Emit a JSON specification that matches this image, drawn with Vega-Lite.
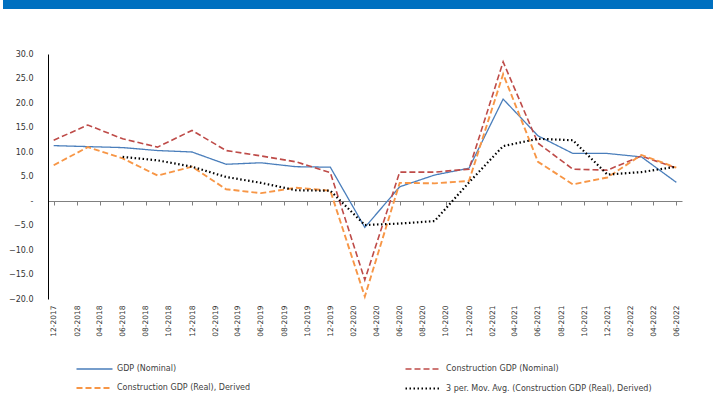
{
  "$schema": "https://vega.github.io/schema/vega-lite/v6.json",
  "width": 634,
  "height": 245,
  "autosize": {"type": "none"},
  "padding": {"left": 48, "top": 54, "right": 31, "bottom": 106},
  "background": "white",
  "config": {
    "view": {"stroke": null},
    "font": "DejaVu Sans",
    "axis": {"labelColor": "#333333", "grid": false, "title": null},
    "legend": {"gradientHorizontalMaxLength": 900}
  },
  "data": {
    "values": [
      {"date": "2017/12/01", "series": "GDP (Nominal)", "value": 11.3},
      {"date": "2018/03/01", "series": "GDP (Nominal)", "value": 11.1},
      {"date": "2018/06/01", "series": "GDP (Nominal)", "value": 10.9},
      {"date": "2018/09/01", "series": "GDP (Nominal)", "value": 10.3},
      {"date": "2018/12/01", "series": "GDP (Nominal)", "value": 10.0},
      {"date": "2019/03/01", "series": "GDP (Nominal)", "value": 7.5},
      {"date": "2019/06/01", "series": "GDP (Nominal)", "value": 7.8},
      {"date": "2019/09/01", "series": "GDP (Nominal)", "value": 7.0},
      {"date": "2019/12/01", "series": "GDP (Nominal)", "value": 6.9},
      {"date": "2020/03/01", "series": "GDP (Nominal)", "value": -5.4},
      {"date": "2020/06/01", "series": "GDP (Nominal)", "value": 2.9},
      {"date": "2020/09/01", "series": "GDP (Nominal)", "value": 5.3},
      {"date": "2020/12/01", "series": "GDP (Nominal)", "value": 6.7},
      {"date": "2021/03/01", "series": "GDP (Nominal)", "value": 20.8},
      {"date": "2021/06/01", "series": "GDP (Nominal)", "value": 13.3},
      {"date": "2021/09/01", "series": "GDP (Nominal)", "value": 9.7},
      {"date": "2021/12/01", "series": "GDP (Nominal)", "value": 9.7},
      {"date": "2022/03/01", "series": "GDP (Nominal)", "value": 9.0},
      {"date": "2022/06/01", "series": "GDP (Nominal)", "value": 3.8},
      {"date": "2017/12/01", "series": "Construction GDP (Nominal)", "value": 12.4},
      {"date": "2018/03/01", "series": "Construction GDP (Nominal)", "value": 15.5},
      {"date": "2018/06/01", "series": "Construction GDP (Nominal)", "value": 12.7},
      {"date": "2018/09/01", "series": "Construction GDP (Nominal)", "value": 11.0},
      {"date": "2018/12/01", "series": "Construction GDP (Nominal)", "value": 14.4},
      {"date": "2019/03/01", "series": "Construction GDP (Nominal)", "value": 10.3},
      {"date": "2019/06/01", "series": "Construction GDP (Nominal)", "value": 9.2},
      {"date": "2019/09/01", "series": "Construction GDP (Nominal)", "value": 8.0},
      {"date": "2019/12/01", "series": "Construction GDP (Nominal)", "value": 5.8},
      {"date": "2020/03/01", "series": "Construction GDP (Nominal)", "value": -16.1},
      {"date": "2020/06/01", "series": "Construction GDP (Nominal)", "value": 5.9},
      {"date": "2020/09/01", "series": "Construction GDP (Nominal)", "value": 5.9},
      {"date": "2020/12/01", "series": "Construction GDP (Nominal)", "value": 6.5},
      {"date": "2021/03/01", "series": "Construction GDP (Nominal)", "value": 28.4},
      {"date": "2021/06/01", "series": "Construction GDP (Nominal)", "value": 11.8},
      {"date": "2021/09/01", "series": "Construction GDP (Nominal)", "value": 6.5},
      {"date": "2021/12/01", "series": "Construction GDP (Nominal)", "value": 6.3},
      {"date": "2022/03/01", "series": "Construction GDP (Nominal)", "value": 9.2},
      {"date": "2022/06/01", "series": "Construction GDP (Nominal)", "value": 6.7},
      {"date": "2017/12/01", "series": "Construction GDP (Real), Derived", "value": 7.3},
      {"date": "2018/03/01", "series": "Construction GDP (Real), Derived", "value": 11.0},
      {"date": "2018/06/01", "series": "Construction GDP (Real), Derived", "value": 8.7},
      {"date": "2018/09/01", "series": "Construction GDP (Real), Derived", "value": 5.2},
      {"date": "2018/12/01", "series": "Construction GDP (Real), Derived", "value": 7.0},
      {"date": "2019/03/01", "series": "Construction GDP (Real), Derived", "value": 2.4},
      {"date": "2019/06/01", "series": "Construction GDP (Real), Derived", "value": 1.6},
      {"date": "2019/09/01", "series": "Construction GDP (Real), Derived", "value": 2.7},
      {"date": "2019/12/01", "series": "Construction GDP (Real), Derived", "value": 2.1},
      {"date": "2020/03/01", "series": "Construction GDP (Real), Derived", "value": -19.5},
      {"date": "2020/06/01", "series": "Construction GDP (Real), Derived", "value": 3.7},
      {"date": "2020/09/01", "series": "Construction GDP (Real), Derived", "value": 3.6},
      {"date": "2020/12/01", "series": "Construction GDP (Real), Derived", "value": 4.1},
      {"date": "2021/03/01", "series": "Construction GDP (Real), Derived", "value": 25.9},
      {"date": "2021/06/01", "series": "Construction GDP (Real), Derived", "value": 8.0},
      {"date": "2021/09/01", "series": "Construction GDP (Real), Derived", "value": 3.4},
      {"date": "2021/12/01", "series": "Construction GDP (Real), Derived", "value": 4.8},
      {"date": "2022/03/01", "series": "Construction GDP (Real), Derived", "value": 9.4},
      {"date": "2022/06/01", "series": "Construction GDP (Real), Derived", "value": 6.8},
      {"date": "2018/06/01", "series": "3 per. Mov. Avg. (Construction GDP (Real), Derived)", "value": 9.0},
      {"date": "2018/09/01", "series": "3 per. Mov. Avg. (Construction GDP (Real), Derived)", "value": 8.3},
      {"date": "2018/12/01", "series": "3 per. Mov. Avg. (Construction GDP (Real), Derived)", "value": 7.0},
      {"date": "2019/03/01", "series": "3 per. Mov. Avg. (Construction GDP (Real), Derived)", "value": 4.9},
      {"date": "2019/06/01", "series": "3 per. Mov. Avg. (Construction GDP (Real), Derived)", "value": 3.7},
      {"date": "2019/09/01", "series": "3 per. Mov. Avg. (Construction GDP (Real), Derived)", "value": 2.2},
      {"date": "2019/12/01", "series": "3 per. Mov. Avg. (Construction GDP (Real), Derived)", "value": 2.1},
      {"date": "2020/03/01", "series": "3 per. Mov. Avg. (Construction GDP (Real), Derived)", "value": -4.9},
      {"date": "2020/06/01", "series": "3 per. Mov. Avg. (Construction GDP (Real), Derived)", "value": -4.6},
      {"date": "2020/09/01", "series": "3 per. Mov. Avg. (Construction GDP (Real), Derived)", "value": -4.1},
      {"date": "2020/12/01", "series": "3 per. Mov. Avg. (Construction GDP (Real), Derived)", "value": 3.8},
      {"date": "2021/03/01", "series": "3 per. Mov. Avg. (Construction GDP (Real), Derived)", "value": 11.2},
      {"date": "2021/06/01", "series": "3 per. Mov. Avg. (Construction GDP (Real), Derived)", "value": 12.7},
      {"date": "2021/09/01", "series": "3 per. Mov. Avg. (Construction GDP (Real), Derived)", "value": 12.4},
      {"date": "2021/12/01", "series": "3 per. Mov. Avg. (Construction GDP (Real), Derived)", "value": 5.4},
      {"date": "2022/03/01", "series": "3 per. Mov. Avg. (Construction GDP (Real), Derived)", "value": 5.9},
      {"date": "2022/06/01", "series": "3 per. Mov. Avg. (Construction GDP (Real), Derived)", "value": 7.0}
    ]
  },
  "layer": [
    {
      "mark": {"type": "line", "opacity": 0},
      "encoding": {
        "x": {
          "field": "date", "type": "temporal",
          "scale": {"domain": [{"year": 2017, "month": 11, "date": 16}, {"year": 2022, "month": 6, "date": 16}]},
          "axis": {
            "orient": "bottom", "offset": -98, "labels": false,
            "domain": true, "domainColor": "#808080", "domainWidth": 1,
            "ticks": true, "tickColor": "#808080", "tickSize": 4, "tickWidth": 1,
            "values": [
              {"year": 2017, "month": 12, "date": 1},
              {"year": 2018, "month": 2, "date": 1}, {"year": 2018, "month": 4, "date": 1}, {"year": 2018, "month": 6, "date": 1},
              {"year": 2018, "month": 8, "date": 1}, {"year": 2018, "month": 10, "date": 1}, {"year": 2018, "month": 12, "date": 1},
              {"year": 2019, "month": 2, "date": 1}, {"year": 2019, "month": 4, "date": 1}, {"year": 2019, "month": 6, "date": 1},
              {"year": 2019, "month": 8, "date": 1}, {"year": 2019, "month": 10, "date": 1}, {"year": 2019, "month": 12, "date": 1},
              {"year": 2020, "month": 2, "date": 1}, {"year": 2020, "month": 4, "date": 1}, {"year": 2020, "month": 6, "date": 1},
              {"year": 2020, "month": 8, "date": 1}, {"year": 2020, "month": 10, "date": 1}, {"year": 2020, "month": 12, "date": 1},
              {"year": 2021, "month": 2, "date": 1}, {"year": 2021, "month": 4, "date": 1}, {"year": 2021, "month": 6, "date": 1},
              {"year": 2021, "month": 8, "date": 1}, {"year": 2021, "month": 10, "date": 1}, {"year": 2021, "month": 12, "date": 1},
              {"year": 2022, "month": 2, "date": 1}, {"year": 2022, "month": 4, "date": 1}, {"year": 2022, "month": 6, "date": 1}
            ]
          }
        },
        "y": {
          "field": "value", "type": "quantitative",
          "scale": {"domain": [-20, 30], "nice": false},
          "axis": {
            "values": [-20, -15, -10, -5, 0, 5, 10, 15, 20, 25, 30],
            "labelExpr": "datum.value == 0 ? '-' : format(datum.value, '.1f')",
            "domain": true, "domainColor": "#000000", "domainWidth": 1,
            "ticks": false, "labelPadding": 15, "labelFontSize": 8
          }
        },
        "stroke": {
          "field": "value", "type": "quantitative",
          "scale": {"range": ["#0070C0", "#0070C0"]},
          "legend": {
            "type": "gradient", "direction": "horizontal", "orient": "none",
            "legendX": -45, "legendY": -54, "gradientLength": 710, "gradientThickness": 9,
            "gradientStrokeWidth": 0, "title": null, "labelExpr": "''", "labelFontSize": 1,
            "tickCount": 2, "labelOverlap": true
          }
        }
      }
    },
    {
      "mark": {"type": "line"},
      "encoding": {
        "x": {
          "field": "date", "type": "temporal",
          "axis": {
            "orient": "bottom", "domain": false, "ticks": false,
            "format": "%m-%Y", "labelAngle": -90, "labelFontSize": 7.5, "labelPadding": 6,
            "values": [
              {"year": 2017, "month": 12, "date": 1},
              {"year": 2018, "month": 2, "date": 1}, {"year": 2018, "month": 4, "date": 1}, {"year": 2018, "month": 6, "date": 1},
              {"year": 2018, "month": 8, "date": 1}, {"year": 2018, "month": 10, "date": 1}, {"year": 2018, "month": 12, "date": 1},
              {"year": 2019, "month": 2, "date": 1}, {"year": 2019, "month": 4, "date": 1}, {"year": 2019, "month": 6, "date": 1},
              {"year": 2019, "month": 8, "date": 1}, {"year": 2019, "month": 10, "date": 1}, {"year": 2019, "month": 12, "date": 1},
              {"year": 2020, "month": 2, "date": 1}, {"year": 2020, "month": 4, "date": 1}, {"year": 2020, "month": 6, "date": 1},
              {"year": 2020, "month": 8, "date": 1}, {"year": 2020, "month": 10, "date": 1}, {"year": 2020, "month": 12, "date": 1},
              {"year": 2021, "month": 2, "date": 1}, {"year": 2021, "month": 4, "date": 1}, {"year": 2021, "month": 6, "date": 1},
              {"year": 2021, "month": 8, "date": 1}, {"year": 2021, "month": 10, "date": 1}, {"year": 2021, "month": 12, "date": 1},
              {"year": 2022, "month": 2, "date": 1}, {"year": 2022, "month": 4, "date": 1}, {"year": 2022, "month": 6, "date": 1}
            ]
          }
        },
        "y": {
          "field": "value", "type": "quantitative",
          "scale": {"domain": [-20, 30], "nice": false},
          "axis": {
            "values": [-20, -15, -10, -5, 0, 5, 10, 15, 20, 25, 30],
            "labelExpr": "datum.value == 0 ? '-' : format(datum.value, '.1f')",
            "domain": true, "domainColor": "#000000", "domainWidth": 1,
            "ticks": false, "labelPadding": 15, "labelFontSize": 8
          }
        },
        "color": {
          "field": "series", "type": "nominal",
          "scale": {
            "domain": ["GDP (Nominal)", "Construction GDP (Nominal)", "Construction GDP (Real), Derived", "3 per. Mov. Avg. (Construction GDP (Real), Derived)"],
            "range": ["#4A7EBB", "#BE4B48", "#F79646", "#000000"]
          },
          "legend": {
            "orient": "none", "legendX": 39, "legendY": 308, "columns": 2, "direction": "horizontal",
            "title": null, "symbolType": "M-3,0H3", "symbolSize": 144, "symbolStrokeWidth": 2,
            "labelOffset": 15, "labelFontSize": 8, "labelColor": "#404040", "labelLimit": 400,
            "columnPadding": 150, "rowPadding": 8
          }
        },
        "strokeDash": {
          "field": "series", "type": "nominal",
          "scale": {
            "domain": ["GDP (Nominal)", "Construction GDP (Nominal)", "Construction GDP (Real), Derived", "3 per. Mov. Avg. (Construction GDP (Real), Derived)"],
            "range": [[1, 0], [6, 3], [6, 3], [1.5, 2.5]]
          },
          "legend": {
            "orient": "none", "legendX": 39, "legendY": 308, "columns": 2, "direction": "horizontal",
            "title": null, "symbolType": "M-3,0H3", "symbolSize": 144, "symbolStrokeWidth": 2,
            "labelOffset": 15, "labelFontSize": 8, "labelColor": "#404040", "labelLimit": 400,
            "columnPadding": 150, "rowPadding": 8
          }
        },
        "strokeWidth": {
          "field": "series", "type": "nominal",
          "scale": {
            "domain": ["GDP (Nominal)", "Construction GDP (Nominal)", "Construction GDP (Real), Derived", "3 per. Mov. Avg. (Construction GDP (Real), Derived)"],
            "range": [1.3, 2.2, 2.2, 1.8]
          },
          "legend": null
        }
      }
    }
  ],
  "resolve": {"axis": {"x": "independent"}}
}
